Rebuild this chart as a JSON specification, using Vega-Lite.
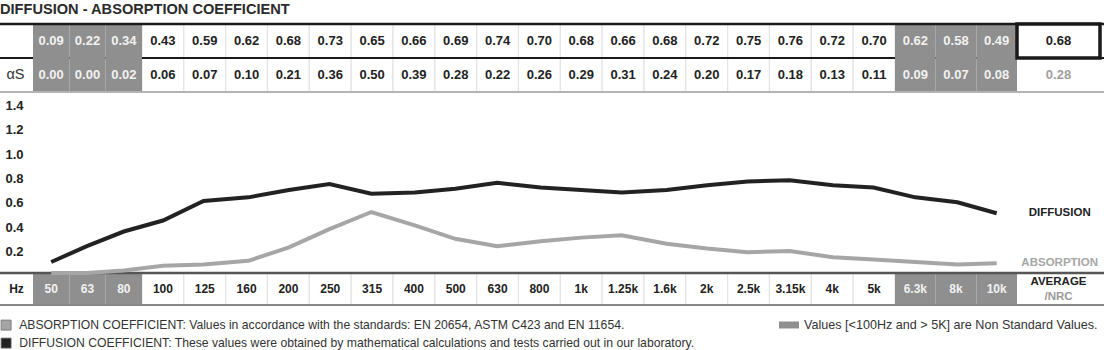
{
  "$schema": "https://vega.github.io/schema/vega-lite/v6.json",
  "width": 1104,
  "height": 330,
  "autosize": {"type": "none"},
  "padding": {"left": 0, "top": 20, "right": 0, "bottom": 0},
  "background": "#ffffff",
  "config": {"view": {"stroke": null}},
  "title": {"text": "DIFFUSION - ABSORPTION COEFFICIENT", "anchor": "start", "frame": "group", "font": "Liberation Sans, Arial, sans-serif", "fontSize": 14.6, "fontWeight": "bold", "color": "#2b2b2b", "offset": 3},
  "datasets": {
    "m": [
      {"hz": "50", "f": 50, "grp": "L", "series": "DIFFUSION", "v": 0.09},
      {"hz": "63", "f": 63, "grp": "L", "series": "DIFFUSION", "v": 0.22},
      {"hz": "80", "f": 80, "grp": "L", "series": "DIFFUSION", "v": 0.34},
      {"hz": "100", "f": 100, "grp": "W", "series": "DIFFUSION", "v": 0.43},
      {"hz": "125", "f": 125, "grp": "W", "series": "DIFFUSION", "v": 0.59},
      {"hz": "160", "f": 160, "grp": "W", "series": "DIFFUSION", "v": 0.62},
      {"hz": "200", "f": 200, "grp": "W", "series": "DIFFUSION", "v": 0.68},
      {"hz": "250", "f": 250, "grp": "W", "series": "DIFFUSION", "v": 0.73},
      {"hz": "315", "f": 315, "grp": "W", "series": "DIFFUSION", "v": 0.65},
      {"hz": "400", "f": 400, "grp": "W", "series": "DIFFUSION", "v": 0.66},
      {"hz": "500", "f": 500, "grp": "W", "series": "DIFFUSION", "v": 0.69},
      {"hz": "630", "f": 630, "grp": "W", "series": "DIFFUSION", "v": 0.74},
      {"hz": "800", "f": 800, "grp": "W", "series": "DIFFUSION", "v": 0.70},
      {"hz": "1k", "f": 1000, "grp": "W", "series": "DIFFUSION", "v": 0.68},
      {"hz": "1.25k", "f": 1250, "grp": "W", "series": "DIFFUSION", "v": 0.66},
      {"hz": "1.6k", "f": 1600, "grp": "W", "series": "DIFFUSION", "v": 0.68},
      {"hz": "2k", "f": 2000, "grp": "W", "series": "DIFFUSION", "v": 0.72},
      {"hz": "2.5k", "f": 2500, "grp": "W", "series": "DIFFUSION", "v": 0.75},
      {"hz": "3.15k", "f": 3150, "grp": "W", "series": "DIFFUSION", "v": 0.76},
      {"hz": "4k", "f": 4000, "grp": "W", "series": "DIFFUSION", "v": 0.72},
      {"hz": "5k", "f": 5000, "grp": "W", "series": "DIFFUSION", "v": 0.70},
      {"hz": "6.3k", "f": 6300, "grp": "R", "series": "DIFFUSION", "v": 0.62},
      {"hz": "8k", "f": 8000, "grp": "R", "series": "DIFFUSION", "v": 0.58},
      {"hz": "10k", "f": 10000, "grp": "R", "series": "DIFFUSION", "v": 0.49},
      {"hz": "50", "f": 50, "grp": "L", "series": "ABSORPTION", "v": 0.00},
      {"hz": "63", "f": 63, "grp": "L", "series": "ABSORPTION", "v": 0.00},
      {"hz": "80", "f": 80, "grp": "L", "series": "ABSORPTION", "v": 0.02},
      {"hz": "100", "f": 100, "grp": "W", "series": "ABSORPTION", "v": 0.06},
      {"hz": "125", "f": 125, "grp": "W", "series": "ABSORPTION", "v": 0.07},
      {"hz": "160", "f": 160, "grp": "W", "series": "ABSORPTION", "v": 0.10},
      {"hz": "200", "f": 200, "grp": "W", "series": "ABSORPTION", "v": 0.21},
      {"hz": "250", "f": 250, "grp": "W", "series": "ABSORPTION", "v": 0.36},
      {"hz": "315", "f": 315, "grp": "W", "series": "ABSORPTION", "v": 0.50},
      {"hz": "400", "f": 400, "grp": "W", "series": "ABSORPTION", "v": 0.39},
      {"hz": "500", "f": 500, "grp": "W", "series": "ABSORPTION", "v": 0.28},
      {"hz": "630", "f": 630, "grp": "W", "series": "ABSORPTION", "v": 0.22},
      {"hz": "800", "f": 800, "grp": "W", "series": "ABSORPTION", "v": 0.26},
      {"hz": "1k", "f": 1000, "grp": "W", "series": "ABSORPTION", "v": 0.29},
      {"hz": "1.25k", "f": 1250, "grp": "W", "series": "ABSORPTION", "v": 0.31},
      {"hz": "1.6k", "f": 1600, "grp": "W", "series": "ABSORPTION", "v": 0.24},
      {"hz": "2k", "f": 2000, "grp": "W", "series": "ABSORPTION", "v": 0.20},
      {"hz": "2.5k", "f": 2500, "grp": "W", "series": "ABSORPTION", "v": 0.17},
      {"hz": "3.15k", "f": 3150, "grp": "W", "series": "ABSORPTION", "v": 0.18},
      {"hz": "4k", "f": 4000, "grp": "W", "series": "ABSORPTION", "v": 0.13},
      {"hz": "5k", "f": 5000, "grp": "W", "series": "ABSORPTION", "v": 0.11},
      {"hz": "6.3k", "f": 6300, "grp": "R", "series": "ABSORPTION", "v": 0.09},
      {"hz": "8k", "f": 8000, "grp": "R", "series": "ABSORPTION", "v": 0.07},
      {"hz": "10k", "f": 10000, "grp": "R", "series": "ABSORPTION", "v": 0.08}
    ],
    "avg": [
      {"col": "avg", "series": "DIFFUSION", "v": 0.68},
      {"col": "avg", "series": "ABSORPTION", "v": 0.28}
    ]
  },
  "resolve": {"scale": {"x": "independent", "y": "independent", "color": "independent", "fill": "independent"}},
  "layer": [
    {
      "data": {"name": "m"},
      "transform": [{"filter": "datum.grp == 'W'"}],
      "mark": {"type": "rect", "fill": "#ffffff", "stroke": "#e3e3e3", "strokeWidth": 1.2},
      "encoding": {
        "x": {"field": "hz", "type": "nominal", "axis": null, "scale": {"type": "band", "domain": ["100","125","160","200","250","315","400","500","630","800","1k","1.25k","1.6k","2k","2.5k","3.15k","4k","5k"], "range": [142, 895], "paddingInner": 0, "paddingOuter": 0}},
        "y": {"field": "series", "type": "nominal", "axis": null, "scale": {"type": "band", "domain": ["DIFFUSION", "ABSORPTION"], "range": [4, 72], "paddingInner": 0, "paddingOuter": 0}}
      }
    },
    {
      "data": {"values": [{}]},
      "mark": {"type": "rule", "color": "#1a1a1a", "strokeWidth": 2},
      "encoding": {
        "y": {"datum": "ABSORPTION", "type": "nominal", "bandPosition": 0, "axis": null, "scale": {"type": "band", "domain": ["DIFFUSION", "ABSORPTION"], "range": [4, 72], "paddingInner": 0, "paddingOuter": 0}}
      }
    },
    {
      "data": {"name": "m"},
      "transform": [{"filter": "datum.grp == 'L'"}],
      "mark": {"type": "rect"},
      "encoding": {
        "x": {"field": "hz", "type": "nominal", "axis": null, "scale": {"type": "band", "domain": ["50","63","80"], "range": [33, 142], "paddingInner": 0, "paddingOuter": 0}},
        "y": {"field": "series", "type": "nominal", "axis": null, "scale": {"type": "band", "domain": ["DIFFUSION", "ABSORPTION"], "range": [4, 72], "paddingInner": 0, "paddingOuter": 0}},
        "fill": {"field": "grp", "type": "nominal", "scale": {"domain": ["L"], "range": ["#8f8f8f"]},
          "legend": {"orient": "none", "legendX": 779, "legendY": 295, "title": null, "padding": 0, "symbolType": "M-1,-0.35H1V0.35H-1Z", "symbolSize": 400, "symbolStrokeWidth": 0, "labelOffset": 5, "labelLimit": 0, "labelFont": "Liberation Sans, Arial, sans-serif", "labelFontSize": 12.6, "labelColor": "#333333", "labelExpr": "'Values [<100Hz and > 5K] are Non Standard Values.'"}}
      }
    },
    {
      "data": {"name": "m"},
      "transform": [{"filter": "datum.grp == 'R'"}],
      "mark": {"type": "rect", "fill": "#8f8f8f"},
      "encoding": {
        "x": {"field": "hz", "type": "nominal", "axis": null, "scale": {"type": "band", "domain": ["6.3k","8k","10k"], "range": [895, 1017], "paddingInner": 0, "paddingOuter": 0}},
        "y": {"field": "series", "type": "nominal", "axis": null, "scale": {"type": "band", "domain": ["DIFFUSION", "ABSORPTION"], "range": [4, 72], "paddingInner": 0, "paddingOuter": 0}}
      }
    },
    {
      "data": {"values": [{}]},
      "mark": {"type": "rule", "color": "#1a1a1a", "strokeWidth": 2.5},
      "encoding": {
        "y": {"datum": "DIFFUSION", "type": "nominal", "bandPosition": 0, "axis": null, "scale": {"type": "band", "domain": ["DIFFUSION", "ABSORPTION"], "range": [4, 72], "paddingInner": 0, "paddingOuter": 0}}
      }
    },
    {
      "data": {"values": [{}]},
      "mark": {"type": "rule", "color": "#b3b3b3", "strokeWidth": 2},
      "encoding": {
        "y": {"datum": "ABSORPTION", "type": "nominal", "bandPosition": 1, "axis": null, "scale": {"type": "band", "domain": ["DIFFUSION", "ABSORPTION"], "range": [4, 72], "paddingInner": 0, "paddingOuter": 0}}
      }
    },
    {
      "data": {"name": "avg"},
      "transform": [{"filter": "datum.series == 'DIFFUSION'"}],
      "mark": {"type": "rect", "fill": "#ffffff", "stroke": "#1a1a1a", "strokeWidth": 3.5},
      "encoding": {
        "x": {"field": "col", "type": "nominal", "axis": null, "scale": {"type": "band", "domain": ["avg"], "range": [1017, 1100], "paddingInner": 0, "paddingOuter": 0}},
        "y": {"field": "series", "type": "nominal", "axis": null, "scale": {"type": "band", "domain": ["DIFFUSION", "ABSORPTION"], "range": [4, 72], "paddingInner": 0, "paddingOuter": 0}}
      }
    },
    {
      "data": {"name": "m"},
      "transform": [{"filter": "datum.grp == 'W'"}],
      "mark": {"type": "text", "font": "Liberation Sans, Arial, sans-serif", "fontSize": 13, "fontWeight": "bold", "fill": "#222222"},
      "encoding": {
        "x": {"field": "hz", "type": "nominal", "axis": null, "scale": {"type": "band", "domain": ["100","125","160","200","250","315","400","500","630","800","1k","1.25k","1.6k","2k","2.5k","3.15k","4k","5k"], "range": [142, 895], "paddingInner": 0, "paddingOuter": 0}},
        "y": {"field": "series", "type": "nominal", "axis": null, "scale": {"type": "band", "domain": ["DIFFUSION", "ABSORPTION"], "range": [4, 72], "paddingInner": 0, "paddingOuter": 0}},
        "text": {"field": "v", "type": "quantitative", "format": ".2f"}
      }
    },
    {
      "data": {"name": "m"},
      "transform": [{"filter": "datum.grp == 'L'"}],
      "mark": {"type": "text", "font": "Liberation Sans, Arial, sans-serif", "fontSize": 13, "fontWeight": "bold", "fill": "#f2f2f2"},
      "encoding": {
        "x": {"field": "hz", "type": "nominal", "axis": null, "scale": {"type": "band", "domain": ["50","63","80"], "range": [33, 142], "paddingInner": 0, "paddingOuter": 0}},
        "y": {"field": "series", "type": "nominal", "axis": null, "scale": {"type": "band", "domain": ["DIFFUSION", "ABSORPTION"], "range": [4, 72], "paddingInner": 0, "paddingOuter": 0}},
        "text": {"field": "v", "type": "quantitative", "format": ".2f"}
      }
    },
    {
      "data": {"name": "m"},
      "transform": [{"filter": "datum.grp == 'R'"}],
      "mark": {"type": "text", "font": "Liberation Sans, Arial, sans-serif", "fontSize": 13, "fontWeight": "bold", "fill": "#f2f2f2"},
      "encoding": {
        "x": {"field": "hz", "type": "nominal", "axis": null, "scale": {"type": "band", "domain": ["6.3k","8k","10k"], "range": [895, 1017], "paddingInner": 0, "paddingOuter": 0}},
        "y": {"field": "series", "type": "nominal", "axis": null, "scale": {"type": "band", "domain": ["DIFFUSION", "ABSORPTION"], "range": [4, 72], "paddingInner": 0, "paddingOuter": 0}},
        "text": {"field": "v", "type": "quantitative", "format": ".2f"}
      }
    },
    {
      "data": {"name": "avg"},
      "mark": {"type": "text", "font": "Liberation Sans, Arial, sans-serif", "fontSize": 13, "fontWeight": "bold"},
      "encoding": {
        "x": {"field": "col", "type": "nominal", "axis": null, "scale": {"type": "band", "domain": ["avg"], "range": [1017, 1100], "paddingInner": 0, "paddingOuter": 0}},
        "y": {"field": "series", "type": "nominal", "axis": null, "scale": {"type": "band", "domain": ["DIFFUSION", "ABSORPTION"], "range": [4, 72], "paddingInner": 0, "paddingOuter": 0}},
        "text": {"field": "v", "type": "quantitative", "format": ".2f"},
        "color": {"field": "series", "type": "nominal", "legend": null, "scale": {"domain": ["ABSORPTION", "DIFFUSION"], "range": ["#9e9e9e", "#222222"]}}
      }
    },
    {
      "data": {"values": [{"col": "lab", "series": "ABSORPTION", "t": "αS"}]},
      "mark": {"type": "text", "font": "Liberation Sans, Arial, sans-serif", "fontSize": 14.5, "fill": "#333333"},
      "encoding": {
        "x": {"field": "col", "type": "nominal", "axis": null, "scale": {"type": "band", "domain": ["lab"], "range": [0, 31], "paddingInner": 0, "paddingOuter": 0}},
        "y": {"field": "series", "type": "nominal", "axis": null, "scale": {"type": "band", "domain": ["DIFFUSION", "ABSORPTION"], "range": [4, 72], "paddingInner": 0, "paddingOuter": 0}},
        "text": {"field": "t"}
      }
    },
    {
      "data": {"name": "m"},
      "transform": [{"filter": "datum.grp == 'W' && datum.series == 'DIFFUSION'"}],
      "mark": {"type": "rect", "fill": "#ffffff", "stroke": "#e3e3e3", "strokeWidth": 1.2},
      "encoding": {
        "x": {"field": "hz", "type": "nominal", "axis": null, "scale": {"type": "band", "domain": ["100","125","160","200","250","315","400","500","630","800","1k","1.25k","1.6k","2k","2.5k","3.15k","4k","5k"], "range": [142, 895], "paddingInner": 0, "paddingOuter": 0}},
        "y": {"datum": "H", "type": "nominal", "axis": null, "scale": {"type": "band", "domain": ["H"], "range": [253, 285], "paddingInner": 0, "paddingOuter": 0}}
      }
    },
    {
      "data": {"name": "m"},
      "transform": [{"filter": "datum.grp == 'L' && datum.series == 'DIFFUSION'"}],
      "mark": {"type": "rect", "fill": "#8f8f8f"},
      "encoding": {
        "x": {"field": "hz", "type": "nominal", "axis": null, "scale": {"type": "band", "domain": ["50","63","80"], "range": [33, 142], "paddingInner": 0, "paddingOuter": 0}},
        "y": {"datum": "H", "type": "nominal", "axis": null, "scale": {"type": "band", "domain": ["H"], "range": [253, 285], "paddingInner": 0, "paddingOuter": 0}}
      }
    },
    {
      "data": {"name": "m"},
      "transform": [{"filter": "datum.grp == 'R' && datum.series == 'DIFFUSION'"}],
      "mark": {"type": "rect", "fill": "#8f8f8f"},
      "encoding": {
        "x": {"field": "hz", "type": "nominal", "axis": null, "scale": {"type": "band", "domain": ["6.3k","8k","10k"], "range": [895, 1017], "paddingInner": 0, "paddingOuter": 0}},
        "y": {"datum": "H", "type": "nominal", "axis": null, "scale": {"type": "band", "domain": ["H"], "range": [253, 285], "paddingInner": 0, "paddingOuter": 0}}
      }
    },
    {
      "data": {"values": [{}]},
      "mark": {"type": "rule", "color": "#555555", "strokeWidth": 2.5},
      "encoding": {
        "y": {"datum": "H", "type": "nominal", "bandPosition": 0, "axis": null, "scale": {"type": "band", "domain": ["H"], "range": [253, 285], "paddingInner": 0, "paddingOuter": 0}}
      }
    },
    {
      "data": {"values": [{}]},
      "mark": {"type": "rule", "color": "#888888", "strokeWidth": 2},
      "encoding": {
        "y": {"datum": "H", "type": "nominal", "bandPosition": 1, "axis": null, "scale": {"type": "band", "domain": ["H"], "range": [253, 285], "paddingInner": 0, "paddingOuter": 0}}
      }
    },
    {
      "data": {"name": "m"},
      "transform": [{"filter": "datum.grp == 'W' && datum.series == 'DIFFUSION'"}],
      "mark": {"type": "text", "font": "Liberation Sans, Arial, sans-serif", "fontSize": 12, "fontWeight": "bold", "fill": "#222222"},
      "encoding": {
        "x": {"field": "hz", "type": "nominal", "axis": null, "scale": {"type": "band", "domain": ["100","125","160","200","250","315","400","500","630","800","1k","1.25k","1.6k","2k","2.5k","3.15k","4k","5k"], "range": [142, 895], "paddingInner": 0, "paddingOuter": 0}},
        "y": {"datum": "H", "type": "nominal", "axis": null, "scale": {"type": "band", "domain": ["H"], "range": [253, 285], "paddingInner": 0, "paddingOuter": 0}},
        "text": {"field": "hz"}
      }
    },
    {
      "data": {"name": "m"},
      "transform": [{"filter": "datum.grp == 'L' && datum.series == 'DIFFUSION'"}],
      "mark": {"type": "text", "font": "Liberation Sans, Arial, sans-serif", "fontSize": 12, "fontWeight": "bold", "fill": "#f2f2f2"},
      "encoding": {
        "x": {"field": "hz", "type": "nominal", "axis": null, "scale": {"type": "band", "domain": ["50","63","80"], "range": [33, 142], "paddingInner": 0, "paddingOuter": 0}},
        "y": {"datum": "H", "type": "nominal", "axis": null, "scale": {"type": "band", "domain": ["H"], "range": [253, 285], "paddingInner": 0, "paddingOuter": 0}},
        "text": {"field": "hz"}
      }
    },
    {
      "data": {"name": "m"},
      "transform": [{"filter": "datum.grp == 'R' && datum.series == 'DIFFUSION'"}],
      "mark": {"type": "text", "font": "Liberation Sans, Arial, sans-serif", "fontSize": 12, "fontWeight": "bold", "fill": "#f2f2f2"},
      "encoding": {
        "x": {"field": "hz", "type": "nominal", "axis": null, "scale": {"type": "band", "domain": ["6.3k","8k","10k"], "range": [895, 1017], "paddingInner": 0, "paddingOuter": 0}},
        "y": {"datum": "H", "type": "nominal", "axis": null, "scale": {"type": "band", "domain": ["H"], "range": [253, 285], "paddingInner": 0, "paddingOuter": 0}},
        "text": {"field": "hz"}
      }
    },
    {
      "data": {"values": [{"col": "lab", "t": "Hz"}]},
      "mark": {"type": "text", "font": "Liberation Sans, Arial, sans-serif", "fontSize": 12, "fontWeight": "bold", "fill": "#222222"},
      "encoding": {
        "x": {"field": "col", "type": "nominal", "axis": null, "scale": {"type": "band", "domain": ["lab"], "range": [0, 33], "paddingInner": 0, "paddingOuter": 0}},
        "y": {"datum": "H", "type": "nominal", "axis": null, "scale": {"type": "band", "domain": ["H"], "range": [253, 285], "paddingInner": 0, "paddingOuter": 0}},
        "text": {"field": "t"}
      }
    },
    {
      "data": {"values": [{"col": "avg", "t": "AVERAGE"}]},
      "mark": {"type": "text", "font": "Liberation Sans, Arial, sans-serif", "fontSize": 11.5, "fontWeight": "bold", "fill": "#222222", "dy": -7.5},
      "encoding": {
        "x": {"field": "col", "type": "nominal", "axis": null, "scale": {"type": "band", "domain": ["avg"], "range": [1017, 1100], "paddingInner": 0, "paddingOuter": 0}},
        "y": {"datum": "H", "type": "nominal", "axis": null, "scale": {"type": "band", "domain": ["H"], "range": [253, 285], "paddingInner": 0, "paddingOuter": 0}},
        "text": {"field": "t"}
      }
    },
    {
      "data": {"values": [{"col": "avg", "t": "/NRC"}]},
      "mark": {"type": "text", "font": "Liberation Sans, Arial, sans-serif", "fontSize": 11.5, "fontWeight": "bold", "fill": "#9a9a9a", "dy": 7.5},
      "encoding": {
        "x": {"field": "col", "type": "nominal", "axis": null, "scale": {"type": "band", "domain": ["avg"], "range": [1017, 1100], "paddingInner": 0, "paddingOuter": 0}},
        "y": {"datum": "H", "type": "nominal", "axis": null, "scale": {"type": "band", "domain": ["H"], "range": [253, 285], "paddingInner": 0, "paddingOuter": 0}},
        "text": {"field": "t"}
      }
    },
    {
      "data": {"name": "m"},
      "mark": {"type": "line", "strokeWidth": 4},
      "encoding": {
        "x": {"field": "f", "type": "quantitative", "axis": null, "scale": {"type": "log", "domain": [50, 80, 100, 5000, 6300, 10000], "range": [51.2, 123.8, 163, 873.5, 915.3, 996.7], "nice": false, "zero": false}},
        "y": {"field": "v", "type": "quantitative", "scale": {"domain": [0, 1.4], "range": [253, 82.2], "nice": false, "zero": false},
          "axis": {"orient": "left", "values": [0.2, 0.4, 0.6, 0.8, 1.0, 1.2, 1.4], "format": ".1f", "domain": false, "ticks": false, "tickSize": 0, "grid": false, "title": null, "labelAlign": "left", "labelBaseline": "middle", "labelPadding": -5, "labelOffset": 3, "labelFont": "Liberation Sans, Arial, sans-serif", "labelFontSize": 13, "labelFontWeight": "bold", "labelColor": "#222222"}},
        "color": {"field": "series", "type": "nominal", "legend": null, "scale": {"domain": ["ABSORPTION", "DIFFUSION"], "range": ["#a6a6a6", "#222222"]}}
      }
    },
    {
      "data": {"name": "m"},
      "transform": [{"filter": "datum.hz == '10k'"}],
      "mark": {"type": "text", "font": "Liberation Sans, Arial, sans-serif", "fontSize": 11.5, "fontWeight": "bold", "dx": 63, "align": "center", "baseline": "middle"},
      "encoding": {
        "x": {"field": "f", "type": "quantitative", "axis": null, "scale": {"type": "log", "domain": [50, 80, 100, 5000, 6300, 10000], "range": [51.2, 123.8, 163, 873.5, 915.3, 996.7], "nice": false, "zero": false}},
        "y": {"field": "v", "type": "quantitative", "axis": null, "scale": {"domain": [0, 1.4], "range": [253, 82.2], "nice": false, "zero": false}},
        "text": {"field": "series"},
        "color": {"field": "series", "type": "nominal", "scale": {"domain": ["ABSORPTION", "DIFFUSION"], "range": ["#a6a6a6", "#222222"]},
          "legend": {"orient": "none", "legendX": 0, "legendY": 299, "direction": "vertical", "title": null, "padding": 0, "symbolType": "square", "symbolSize": 100, "symbolStrokeColor": "#6e6e6e", "symbolStrokeWidth": 0.8, "symbolOpacity": 1, "rowPadding": 4, "labelOffset": 7, "labelLimit": 0, "labelFont": "Liberation Sans, Arial, sans-serif", "labelFontSize": 12.2, "labelColor": "#333333",
            "labelExpr": "datum.value == 'ABSORPTION' ? 'ABSORPTION COEFFICIENT: Values in accordance with the standards: EN 20654, ASTM C423 and EN 11654.' : 'DIFFUSION COEFFICIENT: These values were obtained by mathematical calculations and tests carried out in our laboratory.'"}}
      }
    }
  ]
}
